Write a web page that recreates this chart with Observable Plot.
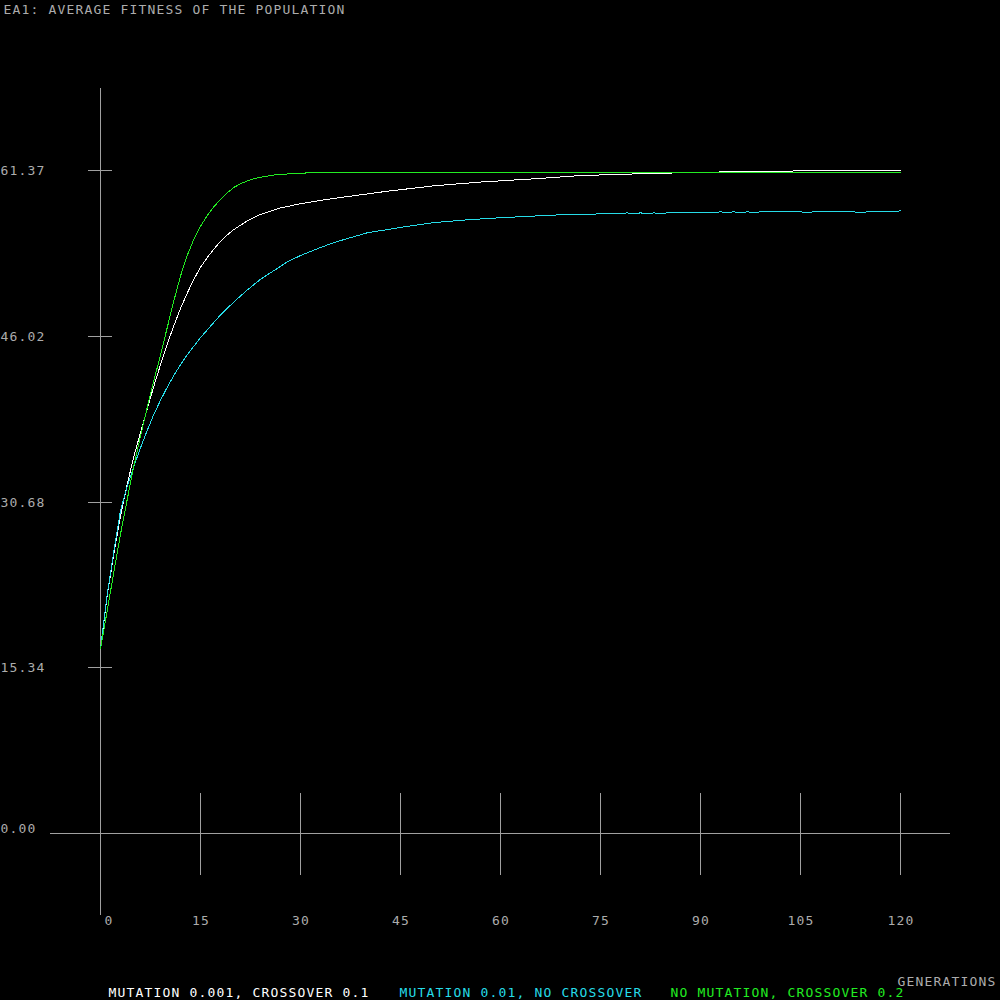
<!DOCTYPE html>
<html><head><meta charset="utf-8">
<script src="https://cdn.jsdelivr.net/npm/d3@7"></script>
<script src="https://cdn.jsdelivr.net/npm/@observablehq/plot@0.6"></script>
<style>html,body{margin:0;padding:0;background:#000;overflow:hidden;}</style>
</head><body><div id="chart"></div>
<script>
const titleText = "EA1: AVERAGE FITNESS OF THE POPULATION";
const xLabel = "GENERATIONS";
const seriesNames = ["MUTATION 0.001, CROSSOVER 0.1", "MUTATION 0.01, NO CROSSOVER", "NO MUTATION, CROSSOVER 0.2"];
const seriesColors = ["#ffffff", "#26dce8", "#22ec22"];
const xTickValues = [0, 15, 30, 45, 60, 75, 90, 105, 120];
const yTickValues = [0, 15.34, 30.68, 46.02, 61.37];
const yTickLabels = ["0.00", "15.34", "30.68", "46.02", "61.37"];

// white: mutation 0.001, crossover 0.1
const gensWhite = [0,1,2,3,4,5,6,7,8,9,10,11,12,13,14,15,16,17,18,19,20,
  22,24,27,30,34,37,43,50,57,65,72,80,85,86,92,93,103,104,120];
const fitWhite = [17.1,22.0,25.9,29.4,32.3,34.9,37.1,39.3,41.4,43.4,45.3,47.0,48.6,50.0,51.3,52.4,53.3,54.1,54.8,55.4,55.9,
  56.7,57.3,57.9,58.3,58.7,58.95,59.45,59.95,60.3,60.6,60.9,61.05,61.07,61.16,61.16,61.25,61.25,61.34,61.34];

// cyan: mutation 0.01, no crossover
const gensCyan = [0,1,2,3,4,5,6,7,8,9,10,11,12,13,14,15,16,
  18,20,22,24,26,28,30,32,35,40,45,50,55,60,65,70,75,
  78,79,80,81,82,83,84,85,
  90,91,92,93,94,95,96,97,98,99,
  105,106,107,113,114,115,119,120];
const fitCyan = [17.1,22.1,26.1,29.9,32.1,34.0,35.7,37.3,38.8,40.1,41.3,42.4,43.4,44.3,45.1,45.9,46.6,
  48.0,49.2,50.3,51.3,52.1,52.9,53.5,54.0,54.7,55.6,56.1,56.55,56.8,57.0,57.15,57.3,57.35,
  57.35,57.45,57.35,57.45,57.35,57.45,57.35,57.45,
  57.45,57.45,57.45,57.55,57.45,57.55,57.45,57.55,57.45,57.55,
  57.55,57.45,57.55,57.55,57.45,57.55,57.55,57.64];

// green: no mutation, crossover 0.2
const gensGreen = [0,1,2,3,4,5,6,7,8,9,10,11,12,13,14,15,16,17,18,19,20,21,22,23,24,25,26,27,28,29,30,31,120];
const fitGreen = [17.1,20.6,24.2,27.7,30.9,34.0,36.8,39.4,41.9,44.3,46.8,49.3,51.6,53.5,55.0,56.2,57.2,58.0,58.7,59.3,59.8,60.15,60.4,60.6,60.75,60.85,60.95,61.0,61.05,61.07,61.07,61.16,61.16];

const series = [
  {gens: gensWhite, fit: fitWhite},
  {gens: gensCyan, fit: fitCyan},
  {gens: gensGreen, fit: fitGreen}
];
const rows = series.flatMap((s, i) => s.gens.map((g, j) => ({gen: g, fit: s.fit[j], name: seriesNames[i]})));

const axisColor = "#a0a0a0";
const textColor = "#acacac";
const font = "DejaVu Sans Mono";
const fs = 13;
const txt = {fontFamily: font, fontSize: fs, lineAnchor: "middle"};

const chart = Plot.plot({
  width: 1000, height: 1000, margin: 0,
  style: "background:#000;letter-spacing:1.17px;shape-rendering:crispEdges;",
  x: {domain: [0, 120], range: [100, 900], axis: null},
  y: {domain: [0, 61.37], range: [833, 170], axis: null},
  color: {domain: seriesNames, range: seriesColors},
  marks: [
    // axes
    Plot.ruleX([0], {y1: -7.6, y2: 69.0, stroke: axisColor}),
    Plot.ruleY([0], {x1: -7.5, x2: 127.5, stroke: axisColor}),
    Plot.ruleX(xTickValues.filter(d => d > 0), {x: d => d, y1: -3.9, y2: 3.7, stroke: axisColor}),
    Plot.ruleY(yTickValues.filter(d => d > 0), {y: d => d, x1: -1.8, x2: 1.8, stroke: axisColor}),
    // y tick labels
    Plot.text(yTickValues.slice(1), {...txt, y: d => d, text: (d, i) => yTickLabels[i + 1], frameAnchor: "left", textAnchor: "start", dx: 0, dy: 0.5, fill: textColor}),
    Plot.text(yTickValues.slice(0, 1), {...txt, y: d => d, text: () => yTickLabels[0], frameAnchor: "left", textAnchor: "start", dx: 0, dy: -5, fill: textColor}),
    // x tick labels
    Plot.text(xTickValues.slice(1), {...txt, x: d => d, text: d => String(d), frameAnchor: "bottom", dy: -79.5, dx: 0.6, fill: textColor}),
    Plot.text(xTickValues.slice(0, 1), {...txt, x: d => d, text: d => String(d), frameAnchor: "bottom", dy: -79.5, dx: 8.6, fill: textColor}),
    // series
    Plot.line(rows, {x: "gen", y: "fit", z: "name", stroke: "name", strokeWidth: 1, curve: "linear"}),
    // title & labels
    Plot.text([titleText], {...txt, frameAnchor: "top-left", text: d => d, textAnchor: "start", dx: 3, dy: 9.5, fill: textColor}),
    Plot.text([xLabel], {...txt, frameAnchor: "bottom-right", text: d => d, textAnchor: "end", dx: -4, dy: -18.5, fill: textColor}),
    // legend
    Plot.text([seriesNames[0]], {...txt, frameAnchor: "bottom-left", text: d => d, textAnchor: "start", dx: 108, dy: -7.5, fill: seriesColors[0]}),
    Plot.text([seriesNames[1]], {...txt, frameAnchor: "bottom-left", text: d => d, textAnchor: "start", dx: 399, dy: -7.5, fill: seriesColors[1]}),
    Plot.text([seriesNames[2]], {...txt, frameAnchor: "bottom-left", text: d => d, textAnchor: "start", dx: 670, dy: -7.5, fill: seriesColors[2]})
  ]
});
document.getElementById("chart").appendChild(chart);
</script>
</body></html>
